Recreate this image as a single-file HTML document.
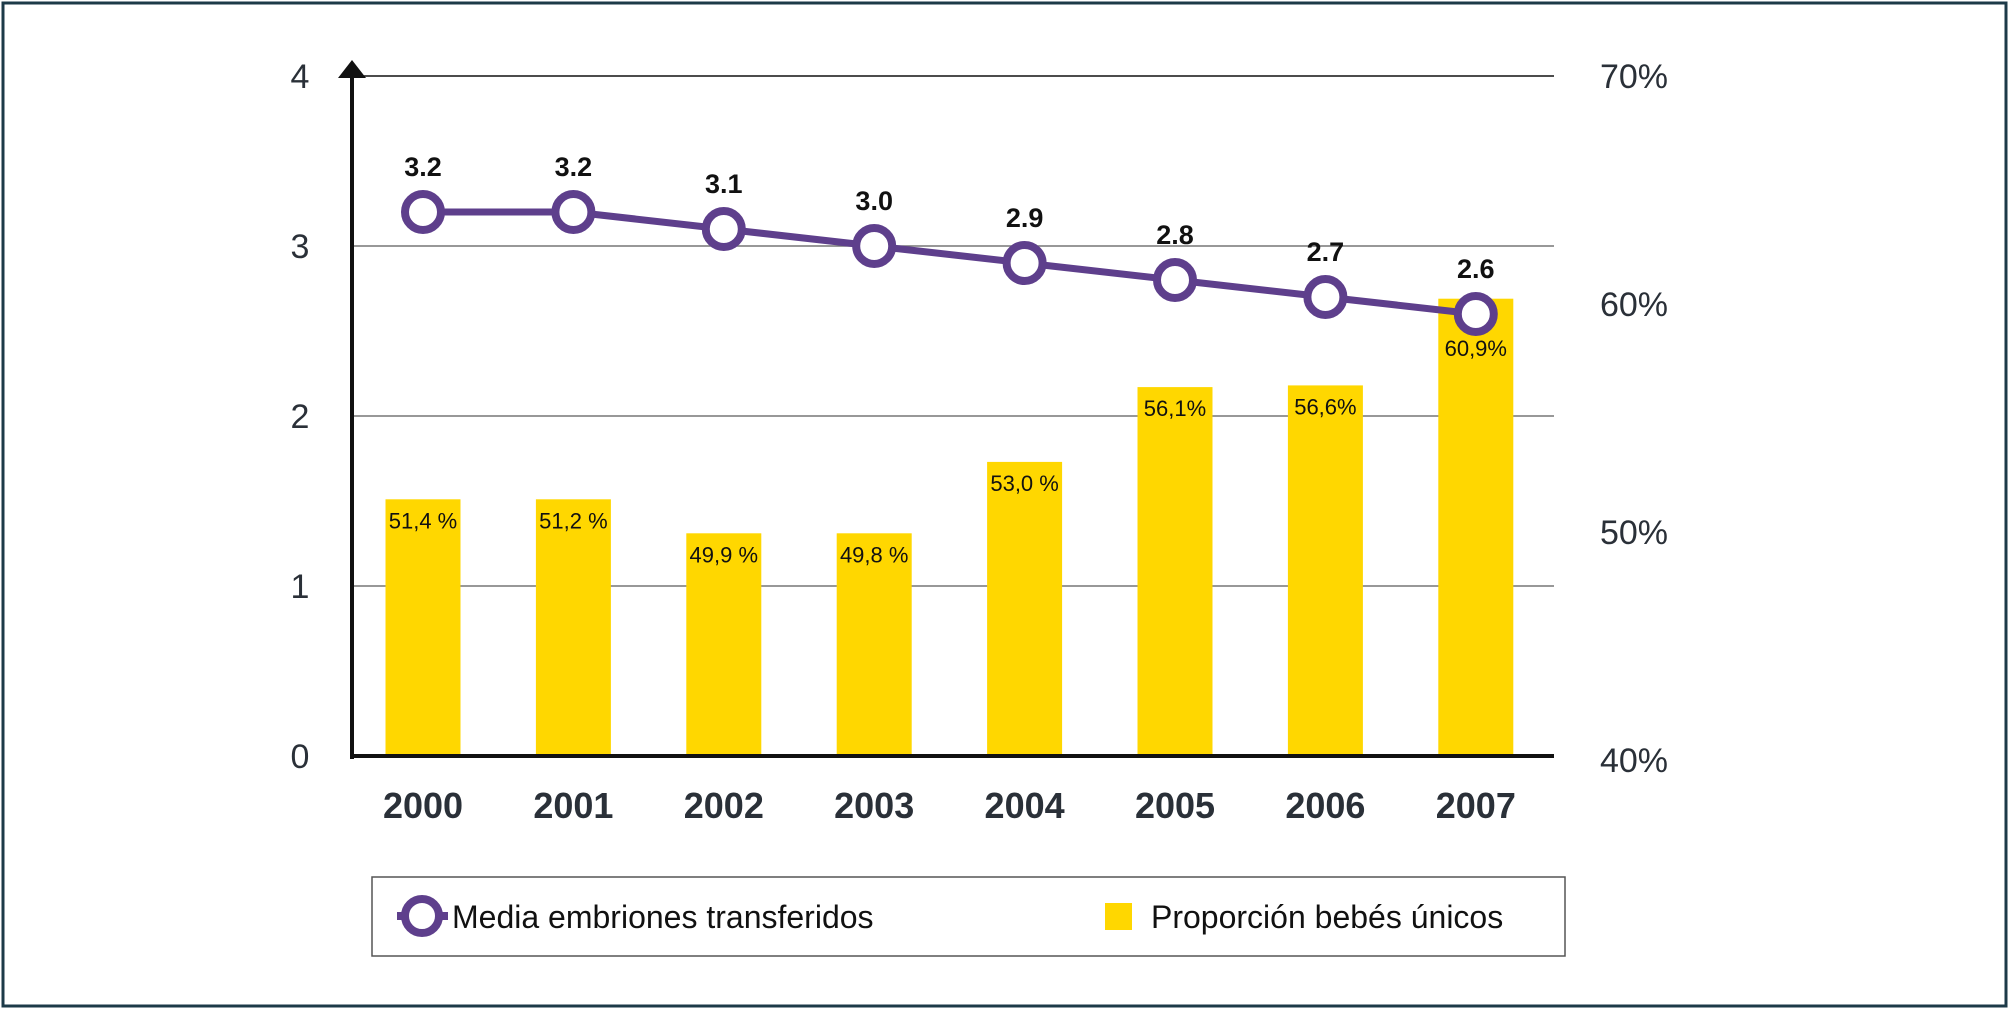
<!DOCTYPE html>
<html><head><meta charset="utf-8"><style>
html,body{margin:0;padding:0;background:#fff}
svg{display:block}
text{font-family:"Liberation Sans Narrow","Liberation Sans",sans-serif}
</style></head><body>
<svg id="chart" width="2010" height="1010" viewBox="0 0 2010 1010" xmlns="http://www.w3.org/2000/svg">
<rect x="3" y="3" width="2003" height="1003" fill="#fff" stroke="#1d3a48" stroke-width="3"/>
<g id="grid"></g><g id="bars"></g><g id="line"></g><g id="axes"></g>
<g>
<rect x="372" y="877" width="1193" height="79" fill="#fff" stroke="#555" stroke-width="1.5"/>
<g>
<line x1="397" y1="916" x2="448" y2="916" stroke="#5e3f8c" stroke-width="8"/>
<circle cx="422" cy="916" r="17" fill="#fff" stroke="#5e3f8c" stroke-width="8"/>
<text x="452" y="928" font-size="32" fill="#111">Media embriones transferidos</text>
</g>
<g>
<rect x="1105" y="903" width="27" height="27" fill="#ffd700"/>
<text x="1151" y="928" font-size="32" fill="#111">Proporción bebés únicos</text>
</g>
</g>
</svg>
<script>
const years=["2000","2001","2002","2003","2004","2005","2006","2007"];
const meanEmbryos=[3.2,3.2,3.1,3.0,2.9,2.8,2.7,2.6];
const meanLabels=["3.2","3.2","3.1","3.0","2.9","2.8","2.7","2.6"];
const barHeights=[1.51,1.51,1.31,1.31,1.73,2.17,2.18,2.69];
const barLabels=["51,4 %","51,2 %","49,9 %","49,8 %","53,0 %","56,1%","56,6%","60,9%"];
const leftTicks=[0,1,2,3,4];
const rightTicks=["40%","50%","60%","70%"];
const rightTickValues=[40,50,60,70];

const NS="http://www.w3.org/2000/svg";
const X0=352,Y0=756,XMAX=1554;
function y(v){return Y0-v*170;}
function x(i){return 423+i*150.4;}
function yR(p){return 760-(p-40)*22.8;}
function mk(tag,attrs,parent,txt){const e=document.createElementNS(NS,tag);for(const k in attrs)e.setAttribute(k,attrs[k]);if(txt!==undefined)e.textContent=txt;parent.appendChild(e);return e;}
const grid=document.getElementById('grid'),bars=document.getElementById('bars'),line=document.getElementById('line'),axes=document.getElementById('axes');
leftTicks.forEach(t=>{
 if(t>0){const g=mk('line',{x1:X0,x2:XMAX,y1:y(t),y2:y(t),stroke:t===4?'#111':'#777','stroke-width':1.5},grid);
 
 }
 const l=mk('text',{x:300,y:y(t)+12,'font-size':34,'text-anchor':'middle',fill:'#2a3038'},axes,String(t));
 
 
});
rightTicks.forEach((t,i)=>{
 const l=mk('text',{x:1634,y:yR(rightTickValues[i])+12,'font-size':34,'text-anchor':'middle',fill:'#2a3038'},axes,t);
 
 
});
years.forEach((yr,i)=>{
 const top=y(barHeights[i]);
 const b=mk('rect',{x:x(i)-37.5,y:top,width:75,height:Y0-top,fill:'#ffd700'},bars);
 
 
 const ly=Math.max(top+29,y(meanEmbryos[i])+42);
 const bl=mk('text',{x:x(i),y:ly,'font-size':22,'text-anchor':'middle',fill:'#111'},bars,barLabels[i]);
 
 
 const xl=mk('text',{x:x(i),y:818,'font-size':36,'font-weight':'bold','text-anchor':'middle',fill:'#2a3038'},axes,yr);
 
 
});
const pts=meanEmbryos.map((v,i)=>x(i)+','+y(v)).join(' ');
const pl=mk('polyline',{points:pts,fill:'none',stroke:'#5e3f8c','stroke-width':7},line);


meanEmbryos.forEach((v,i)=>{
 const c=mk('circle',{cx:x(i),cy:y(v),r:18,fill:'#fff',stroke:'#5e3f8c','stroke-width':8},line);
 
 
 const t=mk('text',{x:x(i),y:y(v)-36,'font-size':27,'font-weight':'bold','text-anchor':'middle',fill:'#111'},line,meanLabels[i]);
 
 
});
const ya=mk('line',{x1:X0,x2:X0,y1:Y0+3,y2:72,stroke:'#111','stroke-width':4},axes);


const ar=mk('polygon',{points:(X0-14)+',78 '+X0+',60 '+(X0+14)+',78',fill:'#111'},axes);


const xa=mk('line',{x1:X0-2,x2:XMAX,y1:Y0,y2:Y0,stroke:'#111','stroke-width':4},axes);


</script>
</body></html>
